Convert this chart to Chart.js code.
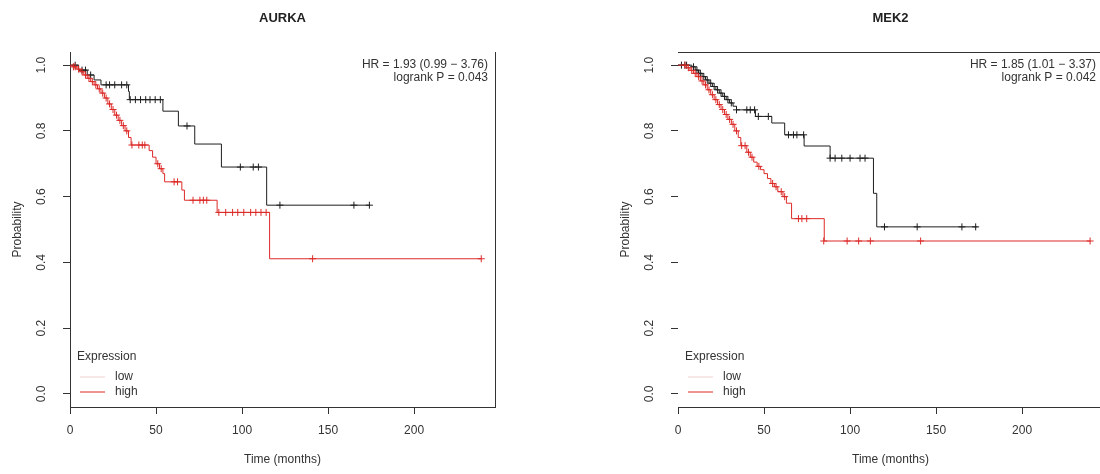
<!DOCTYPE html>
<html>
<head>
<meta charset="utf-8">
<script src="https://cdn.jsdelivr.net/npm/chart.js@4.4.0/dist/chart.umd.min.js"></script>
<style>
html, body { margin: 0; padding: 0; background: #fff; overflow: hidden; width: 1100px; height: 474px; }
.plot { position: absolute; top: 0; width: 550px; height: 474px; }
#wrapA { left: 0; }
#wrapB { left: 608px; }
</style>
</head>
<body>
<div class="plot" id="wrapA"><canvas id="aurka" width="550" height="474"></canvas></div>
<div class="plot" id="wrapB"><canvas id="mek2" width="550" height="474"></canvas></div>
<script>
// axis ticks
const timeTicks = [0, 50, 100, 150, 200];
const probTicks = [0, 0.2, 0.4, 0.6, 0.8, 1.0];

// AURKA - low expression (step curve + censor marks)
const aurkaLowT = [0, 5, 10, 14, 18, 34, 34.5, 54, 63, 72.5, 88, 114.3, 174];
const aurkaLowS = [1.0, 0.985, 0.97, 0.955, 0.94, 0.92, 0.895, 0.86, 0.815, 0.76, 0.69, 0.574, 0.574];
const aurkaLowCensT = [3, 7, 9, 12, 21, 23, 26, 30, 33, 35, 38, 41, 44, 46.5, 49.5, 52.5, 68, 99, 106.5, 109.5, 122, 165, 174];
const aurkaLowCensS = [1.0, 0.985, 0.985, 0.97, 0.94, 0.94, 0.94, 0.94, 0.94, 0.895, 0.895, 0.895, 0.895, 0.895, 0.895, 0.895, 0.815, 0.69, 0.69, 0.69, 0.574, 0.574, 0.574];

// AURKA - high expression
const aurkaHighT = [0, 2, 4, 6, 8, 10, 12, 14, 16, 18, 20, 22, 24, 26, 28, 30, 32, 34, 35.5, 46, 48, 50, 52, 54, 55, 65, 66.5, 85.5, 116, 239];
const aurkaHighS = [1.0, 0.995, 0.988, 0.98, 0.97, 0.96, 0.95, 0.94, 0.928, 0.915, 0.90, 0.882, 0.865, 0.848, 0.832, 0.816, 0.80, 0.78, 0.757, 0.74, 0.72, 0.70, 0.685, 0.67, 0.645, 0.62, 0.589, 0.552, 0.411, 0.411];
const aurkaHighCensT = [2, 3, 5, 7, 9, 11, 13, 15, 17, 19, 21, 23, 25, 27, 29, 31, 33, 36, 40, 42, 43.5, 51, 53, 60.5, 62.5, 71.5, 75.5, 77.5, 79.5, 86.5, 90.5, 94.5, 97.5, 101, 105, 108, 111, 114, 141, 239];
const aurkaHighCensS = [0.995, 0.995, 0.988, 0.98, 0.97, 0.96, 0.95, 0.94, 0.928, 0.915, 0.90, 0.882, 0.865, 0.848, 0.832, 0.816, 0.80, 0.757, 0.757, 0.757, 0.757, 0.70, 0.685, 0.645, 0.645, 0.589, 0.589, 0.589, 0.589, 0.552, 0.552, 0.552, 0.552, 0.552, 0.552, 0.552, 0.552, 0.552, 0.411, 0.411];

// MEK2 - low expression
const mekLowT = [0, 8, 10, 12, 14, 16, 18, 20, 22, 24, 26, 28, 30, 32, 34, 45, 54.5, 62, 73.3, 88.4, 113.6, 115.5, 174];
const mekLowS = [1.0, 0.995, 0.985, 0.975, 0.965, 0.955, 0.945, 0.935, 0.925, 0.915, 0.905, 0.895, 0.885, 0.875, 0.864, 0.844, 0.824, 0.788, 0.754, 0.717, 0.61, 0.508, 0.508];
const mekLowCensT = [2, 4, 5, 9, 11, 12, 13, 15, 17, 19, 21, 23, 25, 27, 29, 31, 34, 40, 42, 44.5, 46.7, 52.5, 64.2, 67.1, 69.1, 73, 88.4, 91.3, 95.2, 100, 105.8, 108.7, 120, 139, 165, 173];
const mekLowCensS = [1.0, 1.0, 1.0, 0.995, 0.985, 0.975, 0.975, 0.965, 0.955, 0.945, 0.935, 0.925, 0.915, 0.905, 0.895, 0.885, 0.864, 0.864, 0.864, 0.864, 0.844, 0.844, 0.788, 0.788, 0.788, 0.788, 0.717, 0.717, 0.717, 0.717, 0.717, 0.717, 0.508, 0.508, 0.508, 0.508];

// MEK2 - high expression
const mekHighT = [0, 5, 7, 9, 11, 13, 15, 17, 19, 21, 23, 25, 27, 29, 31, 33, 35, 36.5, 40, 42, 44, 46, 48, 50, 52, 54, 56, 58, 61, 63, 66, 85, 239.5];
const mekHighS = [1.0, 0.992, 0.984, 0.975, 0.965, 0.952, 0.94, 0.925, 0.91, 0.895, 0.88, 0.865, 0.85, 0.835, 0.82, 0.80, 0.78, 0.755, 0.735, 0.72, 0.705, 0.692, 0.682, 0.67, 0.655, 0.64, 0.63, 0.615, 0.60, 0.58, 0.533, 0.465, 0.465];
const mekHighCensT = [4, 6, 8, 10, 12, 14, 16, 18, 20, 22, 24, 26, 28, 30, 32, 34, 37, 39, 41, 43, 47, 55, 57, 60, 62, 70, 72, 74.8, 84.7, 98.3, 105, 111.8, 141, 239.5];
const mekHighCensS = [1.0, 0.992, 0.984, 0.975, 0.965, 0.952, 0.94, 0.925, 0.91, 0.895, 0.88, 0.865, 0.85, 0.835, 0.82, 0.80, 0.755, 0.755, 0.735, 0.72, 0.692, 0.64, 0.63, 0.615, 0.60, 0.533, 0.533, 0.533, 0.465, 0.465, 0.465, 0.465, 0.465, 0.465];

const lowColor = '#1e1e1e';
const highColor = '#dc2b28';
const legendLowColor = '#f1cfcf';

Chart.defaults.font.family = '"Liberation Sans", Arial, sans-serif';
Chart.defaults.font.size = 12;
Chart.defaults.color = '#333';

// title, HR text, legend and the extra box sides
const kmDecor = {
    id: 'kmDecor',
    afterDraw(chart, args, opts) {
        const ctx = chart.ctx;
        const a = chart.chartArea;
        ctx.save();
        ctx.strokeStyle = '#333';
        ctx.lineWidth = 1;
        ctx.beginPath();
        if (opts.sides.includes('top')) {
            ctx.moveTo(a.left, Math.round(a.top) + 0.5);
            ctx.lineTo(a.right, Math.round(a.top) + 0.5);
        }
        if (opts.sides.includes('right')) {
            ctx.moveTo(Math.round(a.right) + 0.5, a.top);
            ctx.lineTo(Math.round(a.right) + 0.5, a.bottom);
        }
        ctx.stroke();

        ctx.fillStyle = '#222';
        ctx.textBaseline = 'middle';
        ctx.font = 'bold 13px "Liberation Sans", Arial, sans-serif';
        ctx.textAlign = 'center';
        ctx.fillText(opts.title, (a.left + a.right) / 2, 18);

        ctx.font = '12px "Liberation Sans", Arial, sans-serif';
        ctx.fillStyle = '#333';
        ctx.textAlign = 'right';
        ctx.fillText(opts.hr, a.right - 7, a.top + 13);
        ctx.fillText(opts.p, a.right - 7, a.top + 26);

        // legend
        ctx.textAlign = 'left';
        ctx.fillText('Expression', a.left + 7, a.bottom - 50);
        ctx.fillText('low', a.left + 45, a.bottom - 30);
        ctx.fillText('high', a.left + 45, a.bottom - 15);
        ctx.beginPath();
        ctx.strokeStyle = legendLowColor;
        ctx.moveTo(a.left + 10, a.bottom - 30);
        ctx.lineTo(a.left + 35, a.bottom - 30);
        ctx.stroke();
        ctx.beginPath();
        ctx.strokeStyle = highColor;
        ctx.moveTo(a.left + 10, a.bottom - 15);
        ctx.lineTo(a.left + 35, a.bottom - 15);
        ctx.stroke();
        ctx.restore();
    }
};

function pts(t, s) {
    return t.map((v, i) => ({ x: v, y: s[i] }));
}

function kmDatasets(lowT, lowS, lowCT, lowCS, highT, highS, highCT, highCS) {
    return [
        { label: 'high', data: pts(highT, highS), stepped: true, borderColor: highColor, borderWidth: 1, pointRadius: 0, fill: false },
        { label: 'high censored', data: pts(highCT, highCS), showLine: false, pointStyle: 'cross', pointRadius: 3.5, borderColor: highColor, borderWidth: 1 },
        { label: 'low', data: pts(lowT, lowS), stepped: true, borderColor: lowColor, borderWidth: 1, pointRadius: 0, fill: false },
        { label: 'low censored', data: pts(lowCT, lowCS), showLine: false, pointStyle: 'cross', pointRadius: 3.5, borderColor: lowColor, borderWidth: 1 }
    ];
}

function kmOptions(decor, yBorder) {
    return {
        responsive: false,
        animation: false,
        events: [],
        layout: { padding: { left: 0, top: 52, right: 55, bottom: 0 } },
        plugins: {
            legend: { display: false },
            tooltip: { enabled: false },
            kmDecor: decor
        },
        scales: {
            x: {
                type: 'linear',
                min: 0,
                max: 247,
                afterBuildTicks: (s) => { s.ticks = timeTicks.map(v => ({ value: v })); },
                afterFit: (s) => { s.height = 67; },
                grid: { drawOnChartArea: false, tickLength: 7, color: '#333' },
                border: { display: true, color: '#333' },
                ticks: { padding: 9, maxRotation: 0, color: '#333', font: { size: 12 } },
                title: { display: true, text: 'Time (months)', padding: { top: 0, bottom: 7 }, color: '#333', font: { size: 12 } }
            },
            y: {
                type: 'linear',
                min: -0.04,
                max: 1.04,
                afterBuildTicks: (s) => { s.ticks = probTicks.map(v => ({ value: v })); },
                afterFit: (s) => { s.width = 70; },
                grid: { drawOnChartArea: false, tickLength: 7, color: '#333' },
                border: { display: yBorder, color: '#333' },
                ticks: {
                    minRotation: 90, maxRotation: 90, crossAlign: 'center', padding: 13,
                    color: '#333', font: { size: 12 },
                    callback: (v) => v.toFixed(1)
                },
                title: { display: true, text: 'Probability', padding: { top: 10, bottom: 0 }, color: '#333', font: { size: 12 } }
            }
        }
    };
}

new Chart(document.getElementById('aurka').getContext('2d'), {
    type: 'line',
    data: { datasets: kmDatasets(aurkaLowT, aurkaLowS, aurkaLowCensT, aurkaLowCensS, aurkaHighT, aurkaHighS, aurkaHighCensT, aurkaHighCensS) },
    options: kmOptions({ title: 'AURKA', hr: 'HR = 1.93 (0.99 \u2212 3.76)', p: 'logrank P = 0.043', sides: ['right'] }, true),
    plugins: [kmDecor]
});

new Chart(document.getElementById('mek2').getContext('2d'), {
    type: 'line',
    data: { datasets: kmDatasets(mekLowT, mekLowS, mekLowCensT, mekLowCensS, mekHighT, mekHighS, mekHighCensT, mekHighCensS) },
    options: kmOptions({ title: 'MEK2', hr: 'HR = 1.85 (1.01 \u2212 3.37)', p: 'logrank P = 0.042', sides: ['top'] }, false),
    plugins: [kmDecor]
});
</script>
</body>
</html>
